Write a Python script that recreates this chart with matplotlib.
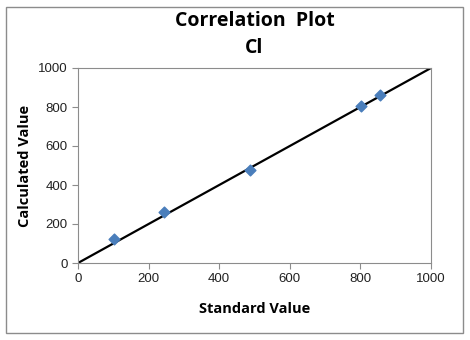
import numpy as np
import matplotlib.pyplot as plt
from matplotlib.patches import Rectangle

# standard vs calculated values for Cl
standard = [102, 244, 487, 802, 855]
calculated = [123, 262, 477, 805, 862]
fit_x = [0, 1000]
fit_y = [0, 1000]

fig = plt.figure(figsize=(4.7, 3.4), dpi=100)
fig.patches.append(Rectangle((6/470, 7/340), 457/470, 326/340, transform=fig.transFigure,
                             fill=False, edgecolor='#8c8c8c', linewidth=1.0))
ax = fig.add_axes([78/470, 77/340, 353/470, 195/340])

ax.plot(fit_x, fit_y, color='black', linewidth=1.6, zorder=2)
ax.scatter(standard, calculated, marker='D', s=30, color='#4a7ebb', zorder=3)

ax.set_xlim(0, 1000)
ax.set_ylim(0, 1000)
ax.set_xticks(np.arange(0, 1001, 200))
ax.set_yticks(np.arange(0, 1001, 200))
for s in ax.spines.values():
    s.set_color('#8c8c8c')
ax.tick_params(direction='out', length=4, color='#8c8c8c', labelsize=9.5,
               labelcolor='#222222')
for lab in ax.get_xticklabels() + ax.get_yticklabels():
    lab.set_family('Liberation Sans')

ax.set_title('Correlation  Plot\nCl', fontsize=14, fontweight='bold',
             family='Open Sans', pad=11, linespacing=1.45)
ax.set_xlabel('Standard Value', fontsize=10.5, fontweight='bold', family='Open Sans', labelpad=12)
ax.set_ylabel('Calculated Value', fontsize=10.5, fontweight='bold', family='Open Sans', labelpad=4)

fig.savefig('out.png', dpi=100)
